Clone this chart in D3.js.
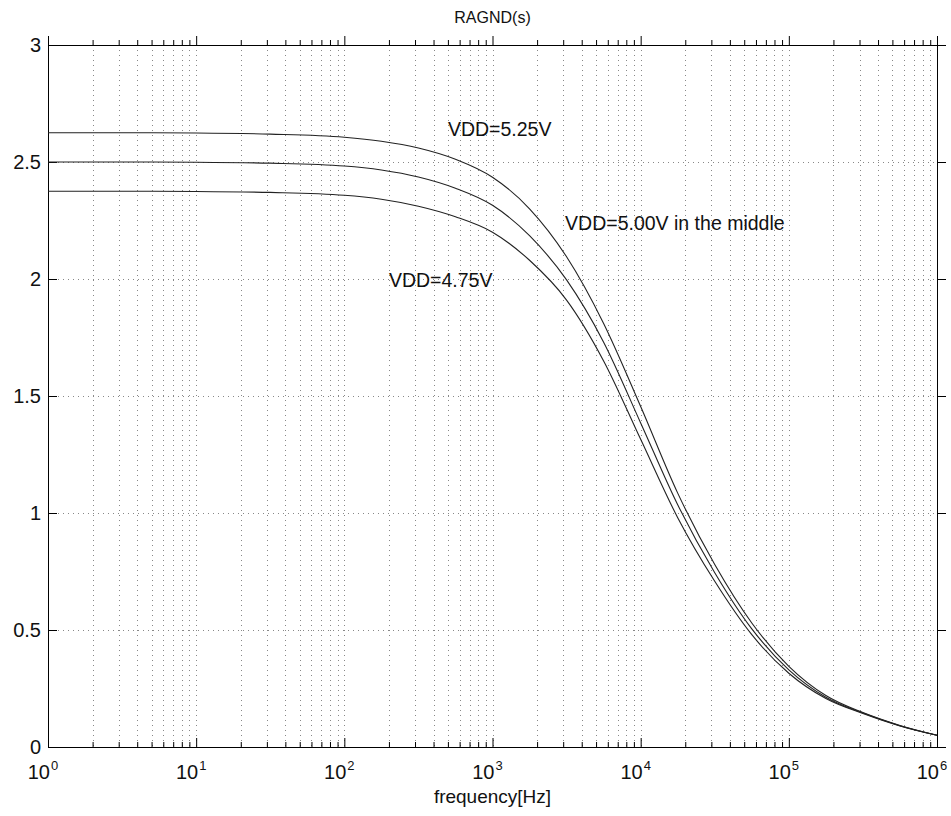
<!DOCTYPE html>
<html><head><meta charset="utf-8">
<script src="https://cdn.jsdelivr.net/npm/d3@7"></script>
<style>
body{margin:0;background:#fff;}
svg{font-family:"Liberation Sans",Arial,Helvetica,sans-serif;}
</style></head>
<body><svg id="c" width="951" height="816"></svg>
<script>
// log10 of frequency at which the curves were read
const logFreq = [0, 0.5, 1, 1.5, 2, 2.25, 2.5, 2.75, 3, 3.25, 3.5, 3.75, 4, 4.25, 4.5, 4.75, 5, 5.25, 5.5, 5.75, 6];
const vdd525 = [2.625, 2.625, 2.624, 2.619, 2.606, 2.589, 2.560, 2.512, 2.435, 2.300, 2.095, 1.810, 1.455, 1.085, 0.780, 0.530, 0.345, 0.220, 0.147, 0.092, 0.050];
const vdd500 = [2.500, 2.500, 2.499, 2.495, 2.483, 2.466, 2.436, 2.388, 2.315, 2.185, 1.996, 1.730, 1.385, 1.035, 0.745, 0.505, 0.330, 0.213, 0.145, 0.091, 0.050];
const vdd475 = [2.375, 2.375, 2.374, 2.370, 2.358, 2.341, 2.311, 2.266, 2.200, 2.080, 1.910, 1.650, 1.315, 0.980, 0.708, 0.480, 0.315, 0.207, 0.143, 0.090, 0.050];
const yTicks = [0, 0.5, 1, 1.5, 2, 2.5, 3];
const yTickLabels = ["0", "0.5", "1", "1.5", "2", "2.5", "3"];
const xDecades = [0, 1, 2, 3, 4, 5, 6];
const titleText = "RAGND(s)";
const xLabelText = "frequency[Hz]";
const annotations = [
  {text: "VDD=5.25V", f: 500, v: 2.612},
  {text: "VDD=5.00V in the middle", f: 3090, v: 2.21},
  {text: "VDD=4.75V", f: 200, v: 1.966}
];

const L = 48, T = 45, W = 889, H = 702;
const svg = d3.select("#c");
const x = d3.scaleLog().domain([1, 1e6]).range([L, L + W]);
const y = d3.scaleLinear().domain([0, 3]).range([T + H, T]);

const minor = [];
for (let k = 0; k < 6; k++) for (let m = 2; m <= 9; m++) minor.push(m * Math.pow(10, k));
const major = xDecades.map(d => Math.pow(10, d));

// grid
const grid = svg.append("g");
grid.selectAll(".vg").data(minor.concat(major.slice(1, -1))).join("line")
  .attr("x1", d => Math.round(x(d)) + 0.5).attr("x2", d => Math.round(x(d)) + 0.5)
  .attr("y1", T).attr("y2", T + H)
  .attr("stroke", "#888").attr("stroke-width", 1).attr("stroke-dasharray", "1,4");
grid.selectAll(".hg").data(yTicks.slice(1, -1)).join("line")
  .attr("x1", L).attr("x2", L + W)
  .attr("y1", d => Math.round(y(d)) + 0.5).attr("y2", d => Math.round(y(d)) + 0.5)
  .attr("stroke", "#888").attr("stroke-width", 1).attr("stroke-dasharray", "1,4");

// axes ticks (inside)
function tickAxis(axisFn, scale, vals, size, tx, ty) {
  const g = svg.append("g").attr("transform", `translate(${tx},${ty})`)
    .call(axisFn(scale).tickValues(vals).tickSize(size).tickFormat(""));
  g.select(".domain").remove();
  g.selectAll("line").attr("stroke", "#000");
  return g;
}
tickAxis(d3.axisBottom, x, minor, -5, 0, T + H);
tickAxis(d3.axisBottom, x, major, -9, 0, T + H);
tickAxis(d3.axisTop, x, minor, 5, 0, T);
tickAxis(d3.axisTop, x, major, 9, 0, T);
tickAxis(d3.axisLeft, y, yTicks, -9, L, 0);
tickAxis(d3.axisRight, y, yTicks, 9, L + W, 0);

// box
svg.append("rect").attr("x", L + 0.5).attr("y", T + 0.5).attr("width", W).attr("height", H)
  .attr("fill", "none").attr("stroke", "#000").attr("stroke-width", 1);

// y labels
svg.selectAll(".yl").data(yTicks).join("text")
  .attr("x", L - 7).attr("y", d => y(d)).attr("dy", "0.36em")
  .attr("text-anchor", "end").attr("font-size", 20).attr("fill", "#111")
  .text((d, i) => yTickLabels[i]);

// x labels 10^k
const xl = svg.selectAll(".xl").data(xDecades).join("text")
  .attr("x", d => x(Math.pow(10, d)) - 5).attr("y", T + H + 32)
  .attr("text-anchor", "middle").attr("font-size", 20).attr("fill", "#111");
xl.append("tspan").text("10");
xl.append("tspan").attr("dy", -9).attr("dx", 1).attr("font-size", 13).text(d => d);

// title & xlabel
svg.append("text").attr("x", x(1e3)).attr("y", 23).attr("text-anchor", "middle")
  .attr("font-size", 16).attr("fill", "#111").text(titleText);
svg.append("text").attr("x", x(1e3)).attr("y", 803).attr("text-anchor", "middle")
  .attr("font-size", 19).attr("fill", "#111").text(xLabelText);

// curves
const line = d3.line()
  .x((d, i) => x(Math.pow(10, logFreq[i])))
  .y(d => y(d))
  .curve(d3.curveMonotoneX);
[vdd525, vdd500, vdd475].forEach(s => {
  svg.append("path").datum(s).attr("d", line)
    .attr("fill", "none").attr("stroke", "#222").attr("stroke-width", 1.1);
});

// annotations
svg.selectAll(".an").data(annotations).join("text")
  .attr("x", d => x(d.f)).attr("y", d => y(d.v))
  .attr("font-size", 19.5).attr("fill", "#111")
  .text(d => d.text);
</script></body></html>
